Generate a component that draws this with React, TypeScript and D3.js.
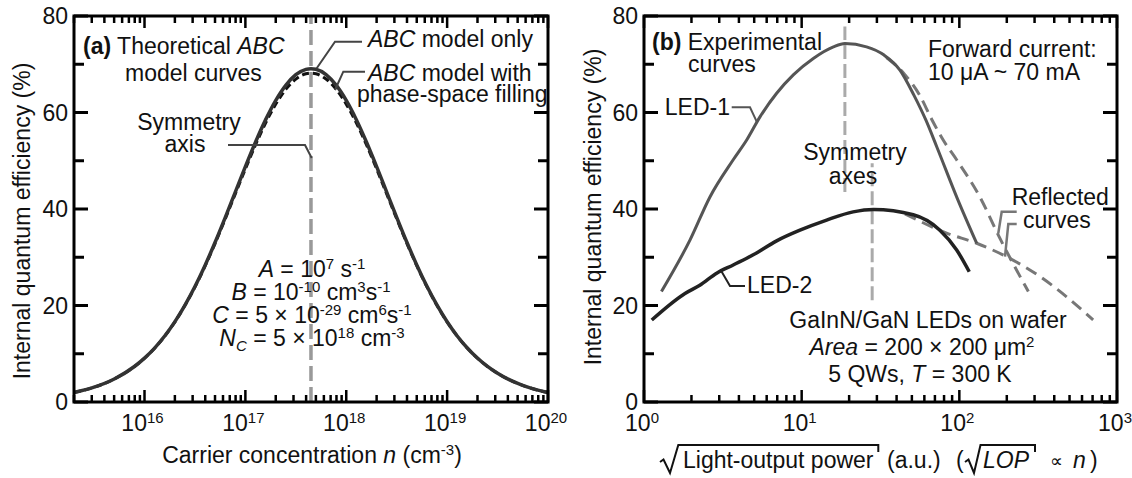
import React from 'react';
import * as d3 from 'd3';

// (a) log10 of carrier concentration n (cm^-3) and IQE (%)
const carrierExp = [15.3, 15.5, 15.7, 15.9, 16.0, 16.1, 16.2, 16.3, 16.4, 16.5, 16.6, 16.7, 16.8, 16.9, 17.0, 17.1, 17.2, 17.3, 17.4, 17.5, 17.6, 17.65, 17.7, 17.8, 17.9, 18.0, 18.1, 18.2, 18.3, 18.4, 18.5, 18.6, 18.7, 18.8, 18.9, 19.0, 19.1, 19.2, 19.3, 19.4, 19.5, 19.6, 19.7, 19.8, 19.9, 20.0];
const iqeAbc = [1.96, 3.07, 4.77, 7.36, 9.09, 11.17, 13.67, 16.6, 20.03, 23.93, 28.31, 33.11, 38.22, 43.5, 48.78, 53.84, 58.47, 62.46, 65.63, 67.83, 68.95, 69.09, 68.96, 67.84, 65.66, 62.5, 58.52, 53.89, 48.84, 43.56, 38.27, 33.16, 28.36, 23.98, 20.06, 16.64, 13.69, 11.2, 9.11, 7.37, 5.95, 4.78, 3.84, 3.07, 2.46, 1.96];
const iqePsf = [1.96, 3.06, 4.76, 7.35, 9.07, 11.15, 13.64, 16.56, 19.98, 23.82, 28.15, 32.89, 37.93, 43.13, 48.31, 53.27, 57.8, 61.69, 64.78, 66.92, 68.02, 68.16, 68.02, 66.94, 64.81, 61.73, 57.84, 53.32, 48.36, 43.18, 37.98, 32.94, 28.2, 23.86, 19.98, 16.58, 13.66, 11.17, 9.09, 7.36, 5.94, 4.78, 3.83, 3.07, 2.45, 1.96];
const symAxisA = 4.47e17;

// (b) sqrt(LOP) (a.u.) and IQE (%)
const led1X = [1.29, 1.96, 2.62, 3.68, 4.48, 5.44, 6.94, 8.85, 11.85, 15.9, 18.8, 25.8, 33.3, 42.0, 51.5, 61.4, 72.1, 97.9, 128.8];
const led1Y = [22.9, 33.6, 42.5, 50.2, 54.3, 59.1, 64.0, 67.8, 71.2, 73.6, 74.3, 73.6, 71.9, 68.8, 63.6, 58.4, 52.8, 41.9, 32.9];
const led1ReflX = [34.5, 45.0, 56.0, 67.0, 79.0, 96.1, 135, 181, 274];
const led1ReflY = [71.4, 67.9, 63.6, 58.5, 54.3, 50.2, 42.5, 33.9, 22.9];
const led2X = [1.12, 1.82, 2.26, 2.89, 3.68, 4.93, 6.94, 9.75, 14.4, 21.2, 28.5, 51.0, 75.3, 96.2, 115.6];
const led2Y = [17.0, 22.5, 24.2, 26.7, 28.4, 30.5, 33.4, 35.6, 37.7, 39.4, 39.9, 38.8, 35.6, 31.5, 27.0];
const led2ReflX = [45.2, 83.0, 128.8, 199.6, 324.6, 479, 706];
const led2ReflY = [39.0, 35.0, 32.9, 30.1, 26.0, 21.8, 17.0];
const symAxesB = [
  { x: 18.8, y0: 43.5, y1: 77.8 },
  { x: 28.0, y0: 21.1, y1: 49.5 },
];

const yTicks = [0, 10, 20, 30, 40, 50, 60, 70, 80];
const yTickLabels = [0, 20, 40, 60, 80];
const xExpA = [16, 17, 18, 19, 20];
const xExpB = [0, 1, 2, 3];

const FONT = '"Liberation Sans", Arial, Helvetica, sans-serif';
const FS = 23;
const SUP = 15;

const boxA = { left: 74, right: 548, top: 16, bottom: 402 };
const boxB = { left: 644, right: 1117, top: 16, bottom: 402 };

const xA = d3.scaleLog().domain([2e15, 1e20]).range([boxA.left, boxA.right]);
const yA = d3.scaleLinear().domain([0, 80]).range([boxA.bottom, boxA.top]);
const xB = d3.scaleLog().domain([1, 1000]).range([boxB.left, boxB.right]);
const yB = d3.scaleLinear().domain([0, 80]).range([boxB.bottom, boxB.top]);

function path(xs: number[], ys: number[], x: any, y: any) {
  return d3.line<[number, number]>()
    .x(d => x(d[0]))
    .y(d => y(d[1]))
    .curve(d3.curveMonotoneX)(d3.zip(xs, ys) as [number, number][]) || '';
}

function Frame({ x, y, box }: any) {
  const isMajor = (t: number) => Math.abs(Math.log10(t) - Math.round(Math.log10(t))) < 1e-6;
  return (
    <g stroke="#000">
      {x.ticks().map((t: number, i: number) => {
        const len = isMajor(t) ? 12 : 7;
        const px = x(t);
        return (
          <g key={'x' + i} strokeWidth={2.5}>
            <line x1={px} x2={px} y1={box.bottom} y2={box.bottom - len} />
            <line x1={px} x2={px} y1={box.top} y2={box.top + len} />
          </g>
        );
      })}
      {yTicks.map(t => {
        const len = t % 20 === 0 ? 14 : 10;
        const py = y(t);
        return (
          <g key={'y' + t} strokeWidth={3}>
            <line x1={box.left} x2={box.left + len} y1={py} y2={py} />
            <line x1={box.right} x2={box.right - len} y1={py} y2={py} />
          </g>
        );
      })}
      <rect x={box.left} y={box.top} width={box.right - box.left} height={box.bottom - box.top}
        fill="none" strokeWidth={3} />
    </g>
  );
}

function YLabels({ y, box }: any) {
  return (
    <g>
      {yTickLabels.map(t => (
        <text key={t} x={box.left - 6} y={y(t)} dy="0.36em" textAnchor="end">{t}</text>
      ))}
    </g>
  );
}

function XLabels({ x, exps }: any) {
  return (
    <g>
      {exps.map((e: number) => (
        <text key={e} x={x(10 ** e) - 2} y={431} textAnchor="middle">
          10<tspan fontSize={SUP} dy={-8}>{e}</tspan>
        </text>
      ))}
    </g>
  );
}

export default function App() {
  const nA = carrierExp.map(e => 10 ** e);
  const lead = { fill: 'none', stroke: '#444', strokeWidth: 2 };
  const leadB = { fill: 'none', stroke: '#777', strokeWidth: 2.5 };

  return (
    <svg width={1132} height={478} viewBox="0 0 1132 478"
      style={{ position: 'absolute', left: 0, top: 0, background: '#fff' }}
      fontFamily={FONT} fontSize={FS} fill="#111">

      {/* ---------- panel (a) ---------- */}
      <line x1={xA(symAxisA)} x2={xA(symAxisA)} y1={yA(0)} y2={yA(80)}
        stroke="#999" strokeWidth={3.5} strokeDasharray="15,6" />
      <path d={path(nA, iqePsf, xA, yA)} fill="none" stroke="#111" strokeWidth={3} strokeDasharray="7,4" />
      <path d={path(nA, iqeAbc, xA, yA)} fill="none" stroke="#333" strokeWidth={3.5} />
      <Frame x={xA} y={yA} box={boxA} />
      <YLabels y={yA} box={boxA} />
      <XLabels x={xA} exps={xExpA} />
      <text transform="translate(30,221) rotate(-90)" textAnchor="middle">Internal quantum efficiency (%)</text>
      <text x={312} y={463} textAnchor="middle">
        Carrier concentration <tspan fontStyle="italic">n</tspan> (cm<tspan fontSize={SUP} dy={-8}>-3</tspan><tspan dy={8}>)</tspan>
      </text>

      <text x={83} y={54}><tspan fontWeight="bold">(a)</tspan> Theoretical <tspan fontStyle="italic">ABC</tspan></text>
      <text x={125} y={81}>model curves</text>
      <text x={189} y={130} textAnchor="middle">Symmetry</text>
      <text x={185} y={152} textAnchor="middle">axis</text>
      <polyline points="228,145 305,145 311.7,158" {...lead} />

      <text x={368} y={47}><tspan fontStyle="italic">ABC</tspan> model only</text>
      <text x={368} y={81}><tspan fontStyle="italic">ABC</tspan> model with</text>
      <text x={357} y={102}>phase-space filling</text>
      <polyline points="362,41.7 335,41.7 316.7,68.3" {...lead} />
      <polyline points="365,71.7 343.3,71.7 335,90" {...lead} />

      <text x={312} y={277} textAnchor="middle">
        <tspan fontStyle="italic">A</tspan> = 10<tspan fontSize={SUP} dy={-8}>7</tspan><tspan dy={8}> s</tspan><tspan fontSize={SUP} dy={-8}>-1</tspan>
      </text>
      <text x={311} y={300} textAnchor="middle">
        <tspan fontStyle="italic">B</tspan> = 10<tspan fontSize={SUP} dy={-8}>-10</tspan><tspan dy={8}> cm</tspan><tspan fontSize={SUP} dy={-8}>3</tspan><tspan dy={8}>s</tspan><tspan fontSize={SUP} dy={-8}>-1</tspan>
      </text>
      <text x={312} y={323} textAnchor="middle">
        <tspan fontStyle="italic">C</tspan> = 5 × 10<tspan fontSize={SUP} dy={-8}>-29</tspan><tspan dy={8}> cm</tspan><tspan fontSize={SUP} dy={-8}>6</tspan><tspan dy={8}>s</tspan><tspan fontSize={SUP} dy={-8}>-1</tspan>
      </text>
      <text x={312} y={346} textAnchor="middle">
        <tspan fontStyle="italic">N</tspan><tspan fontStyle="italic" fontSize={SUP} dy={5}>C</tspan><tspan dy={-5}> = 5 × 10</tspan><tspan fontSize={SUP} dy={-8}>18</tspan><tspan dy={8}> cm</tspan><tspan fontSize={SUP} dy={-8}>-3</tspan>
      </text>

      {/* ---------- panel (b) ---------- */}
      {symAxesB.map((a, i) => (
        <line key={i} x1={xB(a.x)} x2={xB(a.x)} y1={yB(a.y0)} y2={yB(a.y1)}
          stroke="#aaa" strokeWidth={3} strokeDasharray="14,5" />
      ))}
      <path d={path(led1ReflX, led1ReflY, xB, yB)} fill="none" stroke="#777" strokeWidth={3} strokeDasharray="12,7" />
      <path d={path(led2ReflX, led2ReflY, xB, yB)} fill="none" stroke="#777" strokeWidth={3} strokeDasharray="12,7" />
      <path d={path(led1X, led1Y, xB, yB)} fill="none" stroke="#555" strokeWidth={3} />
      <path d={path(led2X, led2Y, xB, yB)} fill="none" stroke="#222" strokeWidth={3.5} />
      <Frame x={xB} y={yB} box={boxB} />
      <YLabels y={yB} box={boxB} />
      <XLabels x={xB} exps={xExpB} />
      <text transform="translate(601,207) rotate(-90)" textAnchor="middle">Internal quantum efficiency (%)</text>

      {/* x title with radicals */}
      <path d="M660,462 L663.5,459.5 L670,473 L678.3,445 H878.3 V452" fill="none" stroke="#111" strokeWidth={2} />
      <text x={683} y={468}>Light-output power</text>
      <text x={887} y={468}>(a.u.)</text>
      <text x={956} y={468}>(</text>
      <path d="M965,462 L968.5,459.5 L974,473 L980.5,445 H1035 V452" fill="none" stroke="#111" strokeWidth={2} />
      <text x={983} y={468} fontStyle="italic">LOP</text>
      <text x={1050} y={467} fontSize={18}>∝</text>
      <text x={1073} y={468} fontStyle="italic">n</text>
      <text x={1090} y={468}>)</text>

      <text x={652} y={50}><tspan fontWeight="bold">(b)</tspan> Experimental</text>
      <text x={688} y={72}>curves</text>
      <text x={928} y={57}>Forward current:</text>
      <text x={928} y={80}>10 μA ~ 70 mA</text>
      <text x={855} y={160} textAnchor="middle">Symmetry</text>
      <text x={853} y={184} textAnchor="middle">axes</text>

      <text x={730} y={115} textAnchor="end">LED-1</text>
      <polyline points="731.7,107.3 750,107.3 756.7,121.7" fill="none" stroke="#555" strokeWidth={2} />
      <text x={747} y={293}>LED-2</text>
      <polyline points="745,286 730,286 721.7,271.7" fill="none" stroke="#222" strokeWidth={2} />

      <text x={1011.7} y={205}>Reflected</text>
      <text x={1023} y={228}>curves</text>
      <polyline points="1016.7,211.7 1001.7,211.7 998.3,233.3" {...leadB} />
      <polyline points="1016.7,224 1008.3,224 1005,256.7" {...leadB} />

      <text x={928} y={328} textAnchor="middle">GaInN/GaN LEDs on wafer</text>
      <text x={922} y={355} textAnchor="middle">
        <tspan fontStyle="italic">Area</tspan> = 200 × 200 μm<tspan fontSize={SUP} dy={-8}>2</tspan>
      </text>
      <text x={920} y={382} textAnchor="middle">
        5 QWs, <tspan fontStyle="italic">T</tspan> = 300 K
      </text>
    </svg>
  );
}
